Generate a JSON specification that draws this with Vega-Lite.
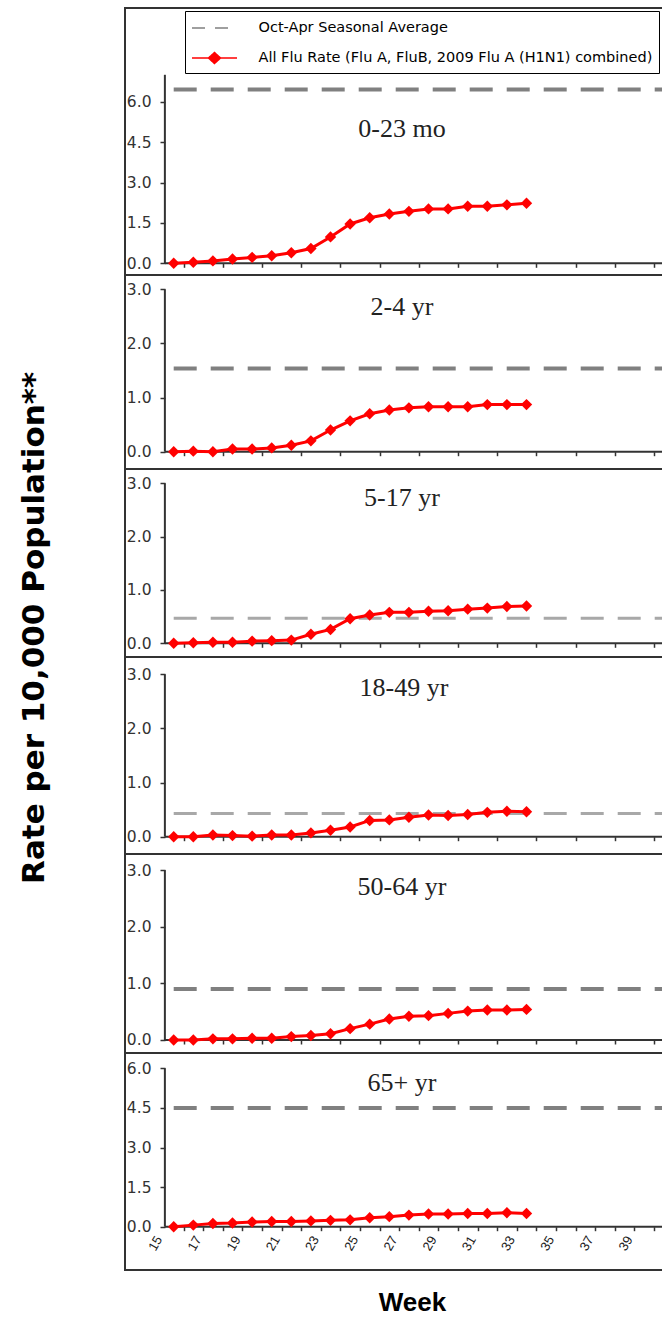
{
  "$schema": "https://vega.github.io/schema/vega-lite/v6.json",
  "background": "white",
  "padding": {"left": 18, "top": 7, "right": 0, "bottom": 0},
  "spacing": 0,
  "bounds": "flush",
  "title": {"text": "Rate per 10,000 Population**", "orient": "left", "anchor": "middle", "font": "DejaVu Sans", "fontSize": 31, "fontWeight": "bold", "color": "#000", "offset": 73, "dx": 34},
  "resolve": {"scale": {"x": "independent", "y": "independent"}},
  "config": {
    "view": {"stroke": "#333", "strokeWidth": 2},
    "axisY": {"domain": false, "grid": false, "tickSize": 5, "tickColor": "#333", "tickWidth": 1.5, "labelFont": "DejaVu Sans", "labelFontSize": 15.5, "labelColor": "#333", "labelPadding": 9, "offset": -40, "labelOverlap": false, "labelBound": false},
    "axisX": {"domain": false, "grid": false, "tickSize": 4, "tickColor": "#333", "tickWidth": 1.5, "labelFont": "Liberation Sans", "labelFontSize": 13, "labelColor": "#222", "labelOverlap": false}
  },
  "datasets": {
    "avg": [
      {"group": "0-23 mo", "avg": 6.45},
      {"group": "2-4 yr", "avg": 1.54},
      {"group": "5-17 yr", "avg": 0.47},
      {"group": "18-49 yr", "avg": 0.43},
      {"group": "50-64 yr", "avg": 0.9},
      {"group": "65+ yr", "avg": 4.5}
    ],
    "rates": [
      {"group": "0-23 mo", "week": 15, "rate": 0},
      {"group": "0-23 mo", "week": 16, "rate": 0.04},
      {"group": "0-23 mo", "week": 17, "rate": 0.09},
      {"group": "0-23 mo", "week": 18, "rate": 0.16},
      {"group": "0-23 mo", "week": 19, "rate": 0.22},
      {"group": "0-23 mo", "week": 20, "rate": 0.28},
      {"group": "0-23 mo", "week": 21, "rate": 0.39},
      {"group": "0-23 mo", "week": 22, "rate": 0.55},
      {"group": "0-23 mo", "week": 23, "rate": 0.98},
      {"group": "0-23 mo", "week": 24, "rate": 1.46},
      {"group": "0-23 mo", "week": 25, "rate": 1.69},
      {"group": "0-23 mo", "week": 26, "rate": 1.83},
      {"group": "0-23 mo", "week": 27, "rate": 1.93},
      {"group": "0-23 mo", "week": 28, "rate": 2.02},
      {"group": "0-23 mo", "week": 29, "rate": 2.02},
      {"group": "0-23 mo", "week": 30, "rate": 2.12},
      {"group": "0-23 mo", "week": 31, "rate": 2.12},
      {"group": "0-23 mo", "week": 32, "rate": 2.17},
      {"group": "0-23 mo", "week": 33, "rate": 2.23},
      {"group": "2-4 yr", "week": 15, "rate": 0},
      {"group": "2-4 yr", "week": 16, "rate": 0.01},
      {"group": "2-4 yr", "week": 17, "rate": 0},
      {"group": "2-4 yr", "week": 18, "rate": 0.05},
      {"group": "2-4 yr", "week": 19, "rate": 0.05},
      {"group": "2-4 yr", "week": 20, "rate": 0.07},
      {"group": "2-4 yr", "week": 21, "rate": 0.12},
      {"group": "2-4 yr", "week": 22, "rate": 0.2},
      {"group": "2-4 yr", "week": 23, "rate": 0.4},
      {"group": "2-4 yr", "week": 24, "rate": 0.57},
      {"group": "2-4 yr", "week": 25, "rate": 0.7},
      {"group": "2-4 yr", "week": 26, "rate": 0.77},
      {"group": "2-4 yr", "week": 27, "rate": 0.81},
      {"group": "2-4 yr", "week": 28, "rate": 0.83},
      {"group": "2-4 yr", "week": 29, "rate": 0.83},
      {"group": "2-4 yr", "week": 30, "rate": 0.83},
      {"group": "2-4 yr", "week": 31, "rate": 0.87},
      {"group": "2-4 yr", "week": 32, "rate": 0.87},
      {"group": "2-4 yr", "week": 33, "rate": 0.87},
      {"group": "5-17 yr", "week": 15, "rate": 0},
      {"group": "5-17 yr", "week": 16, "rate": 0.01},
      {"group": "5-17 yr", "week": 17, "rate": 0.02},
      {"group": "5-17 yr", "week": 18, "rate": 0.02},
      {"group": "5-17 yr", "week": 19, "rate": 0.04},
      {"group": "5-17 yr", "week": 20, "rate": 0.05},
      {"group": "5-17 yr", "week": 21, "rate": 0.06},
      {"group": "5-17 yr", "week": 22, "rate": 0.17},
      {"group": "5-17 yr", "week": 23, "rate": 0.26},
      {"group": "5-17 yr", "week": 24, "rate": 0.46},
      {"group": "5-17 yr", "week": 25, "rate": 0.53},
      {"group": "5-17 yr", "week": 26, "rate": 0.58},
      {"group": "5-17 yr", "week": 27, "rate": 0.58},
      {"group": "5-17 yr", "week": 28, "rate": 0.6},
      {"group": "5-17 yr", "week": 29, "rate": 0.61},
      {"group": "5-17 yr", "week": 30, "rate": 0.64},
      {"group": "5-17 yr", "week": 31, "rate": 0.66},
      {"group": "5-17 yr", "week": 32, "rate": 0.69},
      {"group": "5-17 yr", "week": 33, "rate": 0.7},
      {"group": "18-49 yr", "week": 15, "rate": 0},
      {"group": "18-49 yr", "week": 16, "rate": 0},
      {"group": "18-49 yr", "week": 17, "rate": 0.03},
      {"group": "18-49 yr", "week": 18, "rate": 0.02},
      {"group": "18-49 yr", "week": 19, "rate": 0.01},
      {"group": "18-49 yr", "week": 20, "rate": 0.03},
      {"group": "18-49 yr", "week": 21, "rate": 0.03},
      {"group": "18-49 yr", "week": 22, "rate": 0.07},
      {"group": "18-49 yr", "week": 23, "rate": 0.12},
      {"group": "18-49 yr", "week": 24, "rate": 0.18},
      {"group": "18-49 yr", "week": 25, "rate": 0.3},
      {"group": "18-49 yr", "week": 26, "rate": 0.31},
      {"group": "18-49 yr", "week": 27, "rate": 0.36},
      {"group": "18-49 yr", "week": 28, "rate": 0.4},
      {"group": "18-49 yr", "week": 29, "rate": 0.39},
      {"group": "18-49 yr", "week": 30, "rate": 0.41},
      {"group": "18-49 yr", "week": 31, "rate": 0.45},
      {"group": "18-49 yr", "week": 32, "rate": 0.47},
      {"group": "18-49 yr", "week": 33, "rate": 0.46},
      {"group": "50-64 yr", "week": 15, "rate": 0},
      {"group": "50-64 yr", "week": 16, "rate": 0},
      {"group": "50-64 yr", "week": 17, "rate": 0.02},
      {"group": "50-64 yr", "week": 18, "rate": 0.02},
      {"group": "50-64 yr", "week": 19, "rate": 0.03},
      {"group": "50-64 yr", "week": 20, "rate": 0.03},
      {"group": "50-64 yr", "week": 21, "rate": 0.06},
      {"group": "50-64 yr", "week": 22, "rate": 0.08},
      {"group": "50-64 yr", "week": 23, "rate": 0.11},
      {"group": "50-64 yr", "week": 24, "rate": 0.2},
      {"group": "50-64 yr", "week": 25, "rate": 0.28},
      {"group": "50-64 yr", "week": 26, "rate": 0.37},
      {"group": "50-64 yr", "week": 27, "rate": 0.42},
      {"group": "50-64 yr", "week": 28, "rate": 0.43},
      {"group": "50-64 yr", "week": 29, "rate": 0.47},
      {"group": "50-64 yr", "week": 30, "rate": 0.51},
      {"group": "50-64 yr", "week": 31, "rate": 0.53},
      {"group": "50-64 yr", "week": 32, "rate": 0.53},
      {"group": "50-64 yr", "week": 33, "rate": 0.54},
      {"group": "65+ yr", "week": 15, "rate": 0},
      {"group": "65+ yr", "week": 16, "rate": 0.06},
      {"group": "65+ yr", "week": 17, "rate": 0.12},
      {"group": "65+ yr", "week": 18, "rate": 0.14},
      {"group": "65+ yr", "week": 19, "rate": 0.18},
      {"group": "65+ yr", "week": 20, "rate": 0.2},
      {"group": "65+ yr", "week": 21, "rate": 0.2},
      {"group": "65+ yr", "week": 22, "rate": 0.22},
      {"group": "65+ yr", "week": 23, "rate": 0.24},
      {"group": "65+ yr", "week": 24, "rate": 0.26},
      {"group": "65+ yr", "week": 25, "rate": 0.34},
      {"group": "65+ yr", "week": 26, "rate": 0.38},
      {"group": "65+ yr", "week": 27, "rate": 0.44},
      {"group": "65+ yr", "week": 28, "rate": 0.48},
      {"group": "65+ yr", "week": 29, "rate": 0.48},
      {"group": "65+ yr", "week": 30, "rate": 0.5},
      {"group": "65+ yr", "week": 31, "rate": 0.5},
      {"group": "65+ yr", "week": 32, "rate": 0.53},
      {"group": "65+ yr", "week": 33, "rate": 0.5}
    ]
  },
  "vconcat": [
    {
      "width": 538, "height": 267,
      "title": {"text": "0-23 mo", "font": "Liberation Serif", "fontSize": 26, "fontWeight": "normal", "color": "#222", "anchor": "middle", "offset": -147, "baseline": "middle", "dx": 8},
      "layer": [
        {
          "data": {"name": "avg"},
          "transform": [{"filter": "datum.group === '0-23 mo'"}],
          "mark": {"type": "rule", "strokeWidth": 4, "strokeDash": [23, 14]},
          "encoding": {
            "x": {"datum": 15, "type": "quantitative", "scale": {"domain": [12.515, 39.964], "nice": false, "zero": false}},
            "x2": {"datum": 39.964},
            "y": {"field": "avg", "type": "quantitative", "scale": {"domain": [-0.434, 9.48], "nice": false, "zero": false}},
            "color": {"datum": "Oct-Apr Seasonal Average", "type": "nominal",
              "scale": {"domain": ["Oct-Apr Seasonal Average", "All Flu Rate (Flu A, FluB, 2009 Flu A (H1N1) combined)"], "range": ["#808080", "#ff0000"]},
              "legend": {"orient": "none", "legendX": 60, "legendY": 3, "title": null, "direction": "vertical",
                "labelFont": "DejaVu Sans", "labelFontSize": 14.5, "labelColor": "#000", "labelLimit": 700,
                "strokeColor": "#000", "fillColor": "#fff", "padding": 6, "rowPadding": 12,
                "symbolSize": 400, "symbolOffset": 12.5, "labelOffset": 33,
                "encode": {"symbols": {"update": {
                  "shape": {"signal": "datum.value === 'Oct-Apr Seasonal Average' ? 'M-2.25,0L2.25,0' : 'M-2.25,0L2.25,0M-0.6,0L0,-0.55L0.6,0L0,0.55Z'"},
                  "strokeDash": {"signal": "datum.value === 'Oct-Apr Seasonal Average' ? [13, 10] : [1, 0]"},
                  "fill": {"signal": "datum.value === 'Oct-Apr Seasonal Average' ? 'transparent' : '#ff0000'"},
                  "stroke": {"signal": "datum.value === 'Oct-Apr Seasonal Average' ? '#808080' : '#ff0000'"}
                }}}
              }
            }
          }
        },
        {
          "data": {"values": [{}]},
          "mark": {"type": "rule", "color": "#333", "strokeWidth": 2},
          "encoding": {
            "x": {"datum": 14.55, "type": "quantitative", "scale": {"domain": [12.515, 39.964], "nice": false, "zero": false}},
            "y": {"datum": 0, "type": "quantitative", "scale": {"domain": [-0.434, 9.48], "nice": false, "zero": false}},
            "y2": {"datum": 7}
          }
        },
        {
          "data": {"values": [{}]},
          "mark": {"type": "rule", "color": "#333", "strokeWidth": 2},
          "encoding": {
            "x": {"datum": 14.55, "type": "quantitative", "scale": {"domain": [12.515, 39.964], "nice": false, "zero": false}},
            "x2": {"datum": 39.964},
            "y": {"datum": 0, "type": "quantitative", "scale": {"domain": [-0.434, 9.48], "nice": false, "zero": false}}
          }
        },
        {
          "data": {"name": "rates"},
          "transform": [{"filter": "datum.group === '0-23 mo'"}],
          "mark": {"type": "line", "strokeWidth": 3, "point": {"shape": "diamond", "filled": true, "size": 130}},
          "encoding": {
            "x": {"field": "week", "type": "quantitative", "scale": {"domain": [12.515, 39.964], "nice": false, "zero": false},
              "axis": {"orient": "bottom", "values": [15.5,16.5,17.5,18.5,19.5,20.5,21.5,22.5,23.5,24.5,25.5,26.5,27.5,28.5,29.5,30.5,31.5,32.5,33.5,34.5,35.5,36.5,37.5,38.5,39.5], "labels": false, "offset": -11.7, "title": null}},
            "y": {"field": "rate", "type": "quantitative", "scale": {"domain": [-0.434, 9.48], "nice": false, "zero": false},
              "axis": {"values": [0, 1.5, 3, 4.5, 6], "format": ".1f", "title": null}},
            "color": {"datum": "All Flu Rate (Flu A, FluB, 2009 Flu A (H1N1) combined)", "type": "nominal"}
          }
        }
      ]
    },
    {
      "width": 538, "height": 194,
      "title": {"text": "2-4 yr", "font": "Liberation Serif", "fontSize": 26, "fontWeight": "normal", "color": "#222", "anchor": "middle", "offset": -58, "baseline": "middle", "dx": 8},
      "layer": [
        {
          "data": {"name": "avg"},
          "transform": [{"filter": "datum.group === '2-4 yr'"}],
          "mark": {"type": "rule", "color": "#808080", "strokeWidth": 4, "strokeDash": [23, 14]},
          "encoding": {
            "x": {"datum": 15, "type": "quantitative", "scale": {"domain": [12.515, 39.964], "nice": false, "zero": false}},
            "x2": {"datum": 39.964},
            "y": {"field": "avg", "type": "quantitative", "scale": {"domain": [-0.32, 3.266], "nice": false, "zero": false}}
          }
        },
        {
          "data": {"values": [{}]},
          "mark": {"type": "rule", "color": "#333", "strokeWidth": 2},
          "encoding": {
            "x": {"datum": 14.55, "type": "quantitative", "scale": {"domain": [12.515, 39.964], "nice": false, "zero": false}},
            "y": {"datum": 0, "type": "quantitative", "scale": {"domain": [-0.32, 3.266], "nice": false, "zero": false}},
            "y2": {"datum": 3}
          }
        },
        {
          "data": {"values": [{}]},
          "mark": {"type": "rule", "color": "#333", "strokeWidth": 2},
          "encoding": {
            "x": {"datum": 14.55, "type": "quantitative", "scale": {"domain": [12.515, 39.964], "nice": false, "zero": false}},
            "x2": {"datum": 39.964},
            "y": {"datum": 0, "type": "quantitative", "scale": {"domain": [-0.32, 3.266], "nice": false, "zero": false}}
          }
        },
        {
          "data": {"name": "rates"},
          "transform": [{"filter": "datum.group === '2-4 yr'"}],
          "mark": {"type": "line", "color": "#ff0000", "strokeWidth": 3, "point": {"shape": "diamond", "filled": true, "size": 130, "color": "#ff0000"}},
          "encoding": {
            "x": {"field": "week", "type": "quantitative", "scale": {"domain": [12.515, 39.964], "nice": false, "zero": false},
              "axis": {"orient": "bottom", "values": [15.5,16.5,17.5,18.5,19.5,20.5,21.5,22.5,23.5,24.5,25.5,26.5,27.5,28.5,29.5,30.5,31.5,32.5,33.5,34.5,35.5,36.5,37.5,38.5,39.5], "labels": false, "offset": -17.3, "title": null}},
            "y": {"field": "rate", "type": "quantitative", "scale": {"domain": [-0.32, 3.266], "nice": false, "zero": false},
              "axis": {"values": [0, 1, 2, 3], "format": ".1f", "title": null}}
          }
        }
      ]
    },
    {
      "width": 538, "height": 188,
      "title": {"text": "5-17 yr", "font": "Liberation Serif", "fontSize": 26, "fontWeight": "normal", "color": "#222", "anchor": "middle", "offset": -55, "baseline": "middle", "dx": 8},
      "layer": [
        {
          "data": {"name": "avg"},
          "transform": [{"filter": "datum.group === '5-17 yr'"}],
          "mark": {"type": "rule", "color": "#a8a8a8", "strokeWidth": 3, "strokeDash": [23, 14]},
          "encoding": {
            "x": {"datum": 15, "type": "quantitative", "scale": {"domain": [12.515, 39.964], "nice": false, "zero": false}},
            "x2": {"datum": 39.964},
            "y": {"field": "avg", "type": "quantitative", "scale": {"domain": [-0.257, 3.268], "nice": false, "zero": false}}
          }
        },
        {
          "data": {"values": [{}]},
          "mark": {"type": "rule", "color": "#333", "strokeWidth": 2},
          "encoding": {
            "x": {"datum": 14.55, "type": "quantitative", "scale": {"domain": [12.515, 39.964], "nice": false, "zero": false}},
            "y": {"datum": 0, "type": "quantitative", "scale": {"domain": [-0.257, 3.268], "nice": false, "zero": false}},
            "y2": {"datum": 3}
          }
        },
        {
          "data": {"values": [{}]},
          "mark": {"type": "rule", "color": "#333", "strokeWidth": 2},
          "encoding": {
            "x": {"datum": 14.55, "type": "quantitative", "scale": {"domain": [12.515, 39.964], "nice": false, "zero": false}},
            "x2": {"datum": 39.964},
            "y": {"datum": 0, "type": "quantitative", "scale": {"domain": [-0.257, 3.268], "nice": false, "zero": false}}
          }
        },
        {
          "data": {"name": "rates"},
          "transform": [{"filter": "datum.group === '5-17 yr'"}],
          "mark": {"type": "line", "color": "#ff0000", "strokeWidth": 3, "point": {"shape": "diamond", "filled": true, "size": 130, "color": "#ff0000"}},
          "encoding": {
            "x": {"field": "week", "type": "quantitative", "scale": {"domain": [12.515, 39.964], "nice": false, "zero": false},
              "axis": {"orient": "bottom", "values": [15.5,16.5,17.5,18.5,19.5,20.5,21.5,22.5,23.5,24.5,25.5,26.5,27.5,28.5,29.5,30.5,31.5,32.5,33.5,34.5,35.5,36.5,37.5,38.5,39.5], "labels": false, "offset": -13.7, "title": null}},
            "y": {"field": "rate", "type": "quantitative", "scale": {"domain": [-0.257, 3.268], "nice": false, "zero": false},
              "axis": {"values": [0, 1, 2, 3], "format": ".1f", "title": null}}
          }
        }
      ]
    },
    {
      "width": 538, "height": 197,
      "title": {"text": "18-49 yr", "font": "Liberation Serif", "fontSize": 26, "fontWeight": "normal", "color": "#222", "anchor": "middle", "offset": -57, "baseline": "middle", "dx": 10},
      "layer": [
        {
          "data": {"name": "avg"},
          "transform": [{"filter": "datum.group === '18-49 yr'"}],
          "mark": {"type": "rule", "color": "#a8a8a8", "strokeWidth": 3, "strokeDash": [23, 14]},
          "encoding": {
            "x": {"datum": 15, "type": "quantitative", "scale": {"domain": [12.515, 39.964], "nice": false, "zero": false}},
            "x2": {"datum": 39.964},
            "y": {"field": "avg", "type": "quantitative", "scale": {"domain": [-0.32, 3.32], "nice": false, "zero": false}}
          }
        },
        {
          "data": {"values": [{}]},
          "mark": {"type": "rule", "color": "#333", "strokeWidth": 2},
          "encoding": {
            "x": {"datum": 14.55, "type": "quantitative", "scale": {"domain": [12.515, 39.964], "nice": false, "zero": false}},
            "y": {"datum": 0, "type": "quantitative", "scale": {"domain": [-0.32, 3.32], "nice": false, "zero": false}},
            "y2": {"datum": 3}
          }
        },
        {
          "data": {"values": [{}]},
          "mark": {"type": "rule", "color": "#333", "strokeWidth": 2},
          "encoding": {
            "x": {"datum": 14.55, "type": "quantitative", "scale": {"domain": [12.515, 39.964], "nice": false, "zero": false}},
            "x2": {"datum": 39.964},
            "y": {"datum": 0, "type": "quantitative", "scale": {"domain": [-0.32, 3.32], "nice": false, "zero": false}}
          }
        },
        {
          "data": {"name": "rates"},
          "transform": [{"filter": "datum.group === '18-49 yr'"}],
          "mark": {"type": "line", "color": "#ff0000", "strokeWidth": 3, "point": {"shape": "diamond", "filled": true, "size": 130, "color": "#ff0000"}},
          "encoding": {
            "x": {"field": "week", "type": "quantitative", "scale": {"domain": [12.515, 39.964], "nice": false, "zero": false},
              "axis": {"orient": "bottom", "values": [15.5,16.5,17.5,18.5,19.5,20.5,21.5,22.5,23.5,24.5,25.5,26.5,27.5,28.5,29.5,30.5,31.5,32.5,33.5,34.5,35.5,36.5,37.5,38.5,39.5], "labels": false, "offset": -17.3, "title": null}},
            "y": {"field": "rate", "type": "quantitative", "scale": {"domain": [-0.32, 3.32], "nice": false, "zero": false},
              "axis": {"values": [0, 1, 2, 3], "format": ".1f", "title": null}}
          }
        }
      ]
    },
    {
      "width": 538, "height": 199,
      "title": {"text": "50-64 yr", "font": "Liberation Serif", "fontSize": 26, "fontWeight": "normal", "color": "#222", "anchor": "middle", "offset": -59, "baseline": "middle", "dx": 8},
      "layer": [
        {
          "data": {"name": "avg"},
          "transform": [{"filter": "datum.group === '50-64 yr'"}],
          "mark": {"type": "rule", "color": "#808080", "strokeWidth": 4, "strokeDash": [23, 14]},
          "encoding": {
            "x": {"datum": 15, "type": "quantitative", "scale": {"domain": [12.515, 39.964], "nice": false, "zero": false}},
            "x2": {"datum": 39.964},
            "y": {"field": "avg", "type": "quantitative", "scale": {"domain": [-0.23, 3.286], "nice": false, "zero": false}}
          }
        },
        {
          "data": {"values": [{}]},
          "mark": {"type": "rule", "color": "#333", "strokeWidth": 2},
          "encoding": {
            "x": {"datum": 14.55, "type": "quantitative", "scale": {"domain": [12.515, 39.964], "nice": false, "zero": false}},
            "y": {"datum": 0, "type": "quantitative", "scale": {"domain": [-0.23, 3.286], "nice": false, "zero": false}},
            "y2": {"datum": 3}
          }
        },
        {
          "data": {"values": [{}]},
          "mark": {"type": "rule", "color": "#333", "strokeWidth": 2},
          "encoding": {
            "x": {"datum": 14.55, "type": "quantitative", "scale": {"domain": [12.515, 39.964], "nice": false, "zero": false}},
            "x2": {"datum": 39.964},
            "y": {"datum": 0, "type": "quantitative", "scale": {"domain": [-0.23, 3.286], "nice": false, "zero": false}}
          }
        },
        {
          "data": {"name": "rates"},
          "transform": [{"filter": "datum.group === '50-64 yr'"}],
          "mark": {"type": "line", "color": "#ff0000", "strokeWidth": 3, "point": {"shape": "diamond", "filled": true, "size": 130, "color": "#ff0000"}},
          "encoding": {
            "x": {"field": "week", "type": "quantitative", "scale": {"domain": [12.515, 39.964], "nice": false, "zero": false},
              "axis": {"orient": "bottom", "values": [15.5,16.5,17.5,18.5,19.5,20.5,21.5,22.5,23.5,24.5,25.5,26.5,27.5,28.5,29.5,30.5,31.5,32.5,33.5,34.5,35.5,36.5,37.5,38.5,39.5], "labels": false, "offset": -13, "title": null}},
            "y": {"field": "rate", "type": "quantitative", "scale": {"domain": [-0.23, 3.286], "nice": false, "zero": false},
              "axis": {"values": [0, 1, 2, 3], "format": ".1f", "title": null}}
          }
        }
      ]
    },
    {
      "width": 538, "height": 217,
      "title": {"text": "65+ yr", "font": "Liberation Serif", "fontSize": 26, "fontWeight": "normal", "color": "#222", "anchor": "middle", "offset": -56, "baseline": "middle", "dx": 8},
      "resolve": {"axis": {"x": "independent"}},
      "layer": [
        {
          "data": {"name": "avg"},
          "transform": [{"filter": "datum.group === '65+ yr'"}],
          "mark": {"type": "rule", "color": "#808080", "strokeWidth": 4, "strokeDash": [23, 14]},
          "encoding": {
            "x": {"datum": 15, "type": "quantitative", "scale": {"domain": [12.515, 39.964], "nice": false, "zero": false}, "axis": null},
            "x2": {"datum": 39.964},
            "y": {"field": "avg", "type": "quantitative", "scale": {"domain": [-1.64, 6.58], "nice": false, "zero": false}}
          }
        },
        {
          "data": {"values": [{}]},
          "mark": {"type": "rule", "color": "#333", "strokeWidth": 2},
          "encoding": {
            "x": {"datum": 14.55, "type": "quantitative", "scale": {"domain": [12.515, 39.964], "nice": false, "zero": false}, "axis": null},
            "y": {"datum": 0, "type": "quantitative", "scale": {"domain": [-1.64, 6.58], "nice": false, "zero": false}},
            "y2": {"datum": 6}
          }
        },
        {
          "data": {"values": [{}]},
          "mark": {"type": "rule", "color": "#333", "strokeWidth": 2},
          "encoding": {
            "x": {"datum": 14.55, "type": "quantitative", "scale": {"domain": [12.515, 39.964], "nice": false, "zero": false},
              "axis": {"orient": "bottom", "values": [15, 17, 19, 21, 23, 25, 27, 29, 31, 33, 35, 37, 39], "ticks": false, "labels": true, "labelAngle": -60, "labelAlign": "right", "labelBaseline": "middle", "labelPadding": 10, "labelOffset": -15, "offset": -43.3,
                "title": "Week", "titleFont": "Liberation Sans", "titleFontSize": 26, "titleFontWeight": "bold", "titleColor": "#000", "titleX": 287, "titleY": 76, "titleBaseline": "middle", "titleAlign": "center"}},
            "x2": {"datum": 39.964},
            "y": {"datum": 0, "type": "quantitative", "scale": {"domain": [-1.64, 6.58], "nice": false, "zero": false}}
          }
        },
        {
          "data": {"name": "rates"},
          "transform": [{"filter": "datum.group === '65+ yr'"}],
          "mark": {"type": "line", "color": "#ff0000", "strokeWidth": 3, "point": {"shape": "diamond", "filled": true, "size": 130, "color": "#ff0000"}},
          "encoding": {
            "x": {"field": "week", "type": "quantitative", "scale": {"domain": [12.515, 39.964], "nice": false, "zero": false},
              "axis": {"orient": "bottom", "values": [15.5,16.5,17.5,18.5,19.5,20.5,21.5,22.5,23.5,24.5,25.5,26.5,27.5,28.5,29.5,30.5,31.5,32.5,33.5,34.5,35.5,36.5,37.5,38.5,39.5], "labels": false, "offset": -43.3, "title": null}},
            "y": {"field": "rate", "type": "quantitative", "scale": {"domain": [-1.64, 6.58], "nice": false, "zero": false},
              "axis": {"values": [0, 1.5, 3, 4.5, 6], "format": ".1f", "title": null}}
          }
        }
      ]
    }
  ]
}
